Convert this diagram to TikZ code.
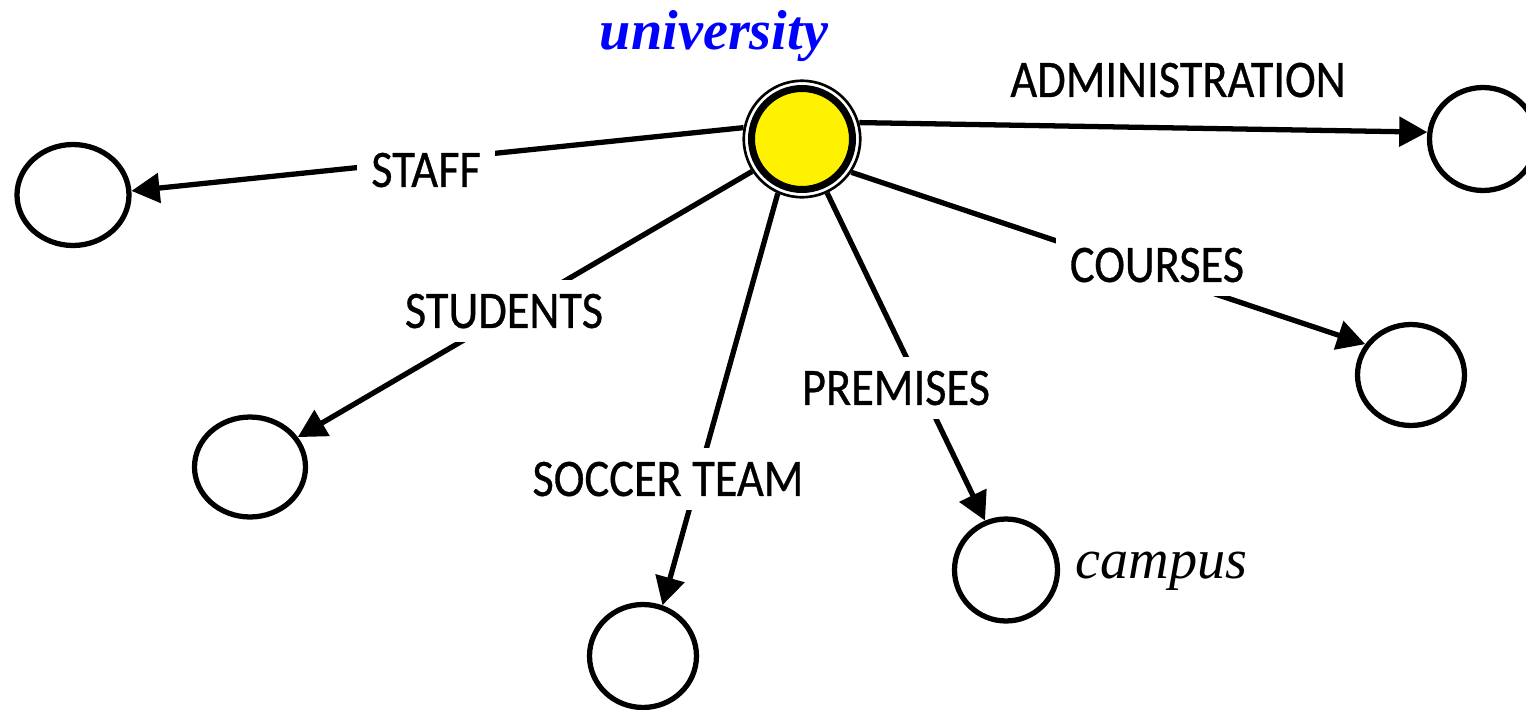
\documentclass[tikz,border=0pt]{standalone}
\usepackage{fontspec}
\setmainfont{Liberation Serif}
\newfontfamily\labfont[FakeStretch=0.88,FakeBold=0.6]{Carlito}
\usetikzlibrary{arrows.meta,shapes.geometric}
\tikzset{
  leaf/.style={draw, line width=3pt, ellipse, inner sep=0pt},
  edge/.style={line width=3pt, -{Triangle[length=16pt,width=16.6pt]}},
  lab/.style={fill=white, font=\labfont\fontsize{30}{30}\selectfont, text height=19.3pt, text depth=0pt, inner xsep=8pt, inner ysep=8pt},
}
\begin{document}
\begin{tikzpicture}[x=0.02cm,y=-0.02cm]
\useasboundingbox (0,0) rectangle (1526,710);
% centre node
\node[circle, draw, line width=1.5pt, minimum size=2.33cm, inner sep=0pt] (uni) at (802,139) {};
\node[circle, draw, fill=yellow, line width=4pt, minimum size=2.02cm, inner sep=0pt] (unicore) at (802,139) {};
% leaves
\node[leaf, minimum width=2.24cm, minimum height=2.02cm] (staff) at (73,195) {};
\node[leaf, minimum width=2.22cm, minimum height=2.0cm] (students) at (250,467) {};
\node[leaf, minimum width=2.14cm, minimum height=2.06cm] (soccer) at (643,656) {};
\node[leaf, minimum width=2.06cm, minimum height=2.04cm] (campus) at (1006,570) {};
\node[leaf, minimum width=2.14cm, minimum height=2.02cm] (courses) at (1411,375) {};
\node[leaf, minimum width=2.14cm, minimum height=2.06cm] (admin) at (1483,139) {};
% edges
\draw[edge] (uni.169) -- (staff.4);
\draw[edge] (uni.16) -- (admin.173);
\draw[edge] (uni.213) -- (students.32);
\draw[edge] (uni.246) -- (soccer.69);
\draw[edge] (uni.295) -- (campus.113);
\draw[edge] (uni.326) -- (courses.146);
% labels
\node[lab] (lstaff) at (426,170) {STAFF};
\node[lab] (lstudents) at (504,311) {STUDENTS};
\node[lab] (lsoccer) at (668,479) {SOCCER TEAM};
\node[lab] (lpremises) at (896,388) {PREMISES};
\node[lab] (lcourses) at (1157,265) {COURSES};
\node[lab, fill=none] (ladmin) at (1178,80) {ADMINISTRATION};
\node[font=\bfseries\itshape\fontsize{32}{32}\selectfont, text=blue, anchor=base, inner sep=0pt] (univlab) at (714,50) {university};
\node[font=\itshape\fontsize{32}{32}\selectfont, anchor=base west, inner sep=0pt] (camplab) at (1075,578) {campus};
\end{tikzpicture}
\end{document}
